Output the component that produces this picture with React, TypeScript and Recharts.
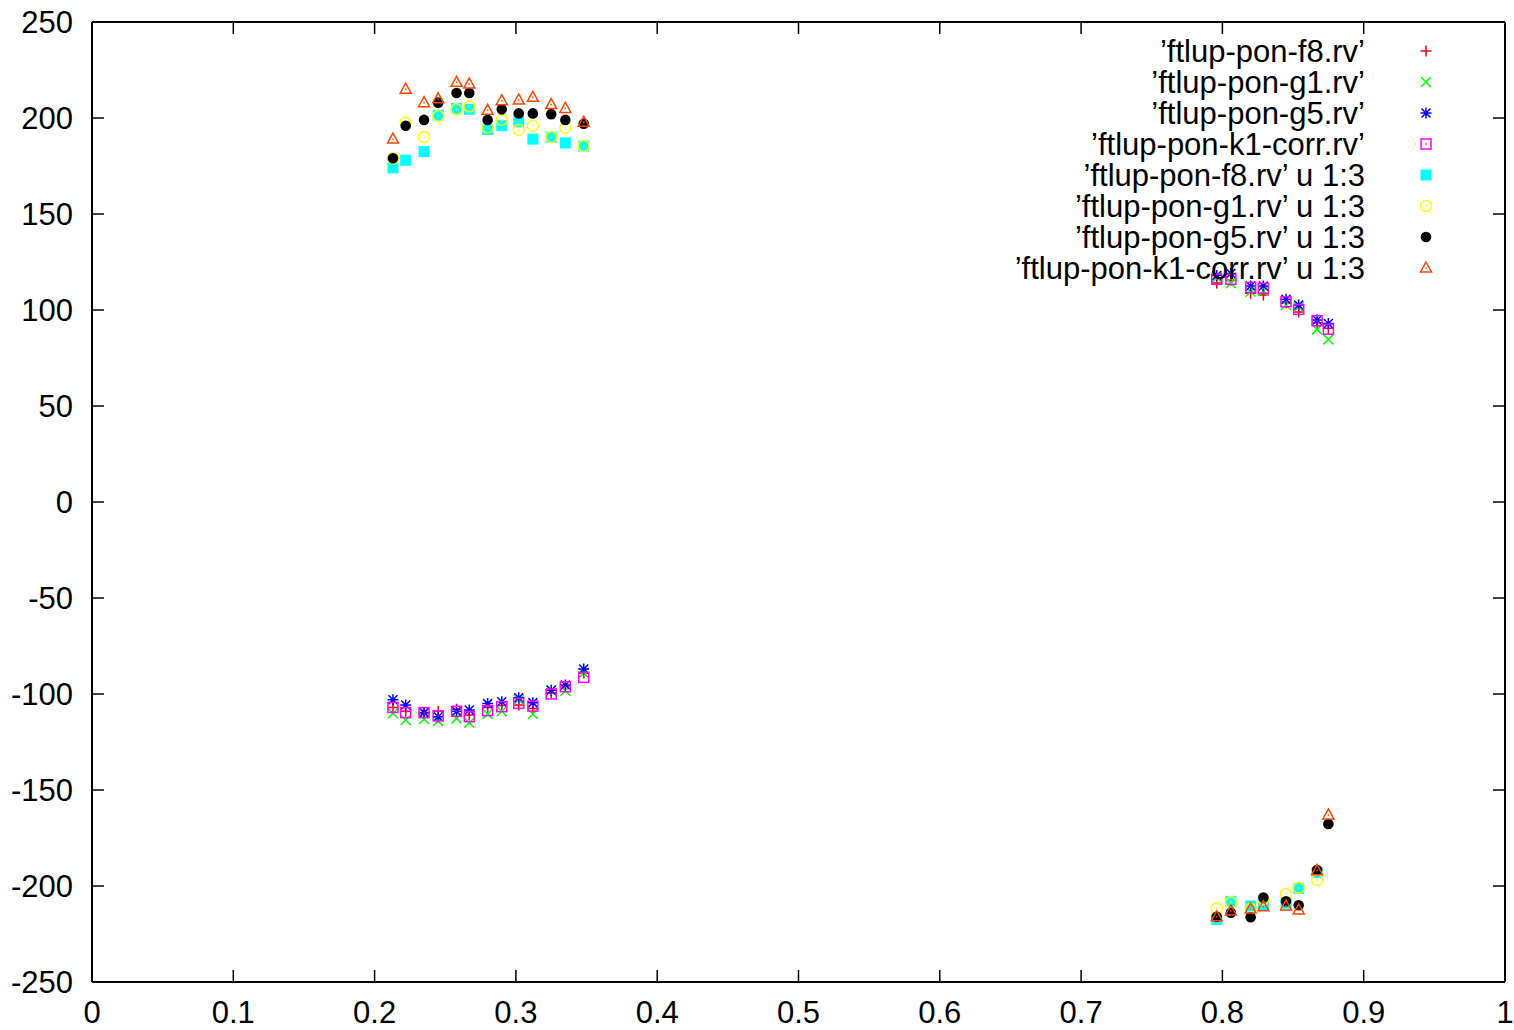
import React from 'react'
import { ScatterChart, Scatter, XAxis, YAxis } from 'recharts'

// x positions of the samples (left group, then right group)
const xs = [0.213, 0.222, 0.235, 0.245, 0.258, 0.267, 0.28, 0.29, 0.302, 0.312, 0.325, 0.335, 0.348,
  0.796, 0.806, 0.82, 0.829, 0.845, 0.854, 0.867, 0.875]

const f8 = [-107, -109, -110, -109, -108, -111, -107, -106, -105.7, -107.5, -99.5, -96, -89,
  114, 115.5, 108.7, 107.8, 103.6, 99, 93.4, 90.5]
const g1 = [-110, -113.5, -113, -114, -112.7, -115, -110.4, -109, -103, -110.4, -98, -98.3, -89,
  117, 114, 109.5, 110, 102.6, 101.7, 89.9, 84.7]
const g5 = [-103, -105.7, -109.7, -111.8, -109, -108.3, -105, -104, -102, -104.5, -98, -95.3, -87,
  118, 119, 112.5, 112.5, 105.6, 102.6, 94.8, 93]
const k1 = [-107, -109.7, -109.7, -111.4, -109, -111.8, -108.7, -106.6, -104.9, -106.3, -100, -96.2, -91.3,
  116, 116, 111.8, 111.3, 104.3, 100.3, 94.4, 90]
const f8c3 = [174, 178, 182.5, 201.5, 205, 204.5, 194, 196, 198, 189, 190, 187, 185.4,
  -217.4, -208, -210.4, -210, -209, -201.2, -193, null]
const g1c3 = [179, 197.5, 190, 201, 204.5, 206, 195, 199, 193.7, 196, 190, 195, 185.4,
  -211.6, -208.5, -212, -207, -204.3, -201, -196.9, null]
const g5c3 = [179, 196, 199, 208, 213, 213, 199, 204.5, 202.4, 202.4, 202, 199, 197,
  -216, -213.9, -216.3, -206, -208, -210, -191.7, -167.7]
const k1c3 = [189, 215, 208, 210, 218.6, 217.7, 204, 209, 209.4, 210.8, 207, 205, 197.8,
  -216, -213, -212, -210.8, -210.4, -212.5, -192, -163]

const xTicks = [0, 0.1, 0.2, 0.3, 0.4, 0.5, 0.6, 0.7, 0.8, 0.9, 1]
const yTicks = [-250, -200, -150, -100, -50, 0, 50, 100, 150, 200, 250]

const FONT = '"Liberation Sans", Arial, Helvetica, sans-serif'
const FS = 31

type Mk = { cx: number; cy: number; color: string }

const Plus = ({ cx, cy, color }: Mk) => (
  <path d={`M${cx - 5.5},${cy}H${cx + 5.5}M${cx},${cy - 5.5}V${cy + 5.5}`} stroke={color} strokeWidth={1.5} fill="none" />
)
const Cross = ({ cx, cy, color }: Mk) => (
  <path d={`M${cx - 5},${cy - 5}L${cx + 5},${cy + 5}M${cx - 5},${cy + 5}L${cx + 5},${cy - 5}`} stroke={color} strokeWidth={1.5} fill="none" />
)
const Star = ({ cx, cy, color }: Mk) => (
  <path
    d={`M${cx - 5.5},${cy}H${cx + 5.5}M${cx},${cy - 5.5}V${cy + 5.5}M${cx - 4.5},${cy - 4.5}L${cx + 4.5},${cy + 4.5}M${cx - 4.5},${cy + 4.5}L${cx + 4.5},${cy - 4.5}`}
    stroke={color} strokeWidth={1.5} fill="none" />
)
const Box = ({ cx, cy, color }: Mk) => (
  <g>
    <rect x={cx - 5} y={cy - 5} width={10} height={10} stroke={color} strokeWidth={1.5} fill="none" />
    <rect x={cx - 0.75} y={cy - 0.75} width={1.5} height={1.5} fill={color} />
  </g>
)
const FillBox = ({ cx, cy, color }: Mk) => (
  <rect x={cx - 5.5} y={cy - 5.5} width={11} height={11} fill={color} />
)
const Ring = ({ cx, cy, color }: Mk) => (
  <g>
    <circle cx={cx} cy={cy} r={5.5} stroke={color} strokeWidth={1.5} fill="none" />
    <rect x={cx - 0.75} y={cy - 0.75} width={1.5} height={1.5} fill={color} />
  </g>
)
const Dot = ({ cx, cy, color }: Mk) => <circle cx={cx} cy={cy} r={5.3} fill={color} />
const Tri = ({ cx, cy, color }: Mk) => (
  <g>
    <path d={`M${cx},${cy - 6}L${cx + 5.5},${cy + 4}L${cx - 5.5},${cy + 4}Z`} stroke={color} strokeWidth={1.5} fill="none" />
    <rect x={cx - 0.75} y={cy - 0.75} width={1.5} height={1.5} fill={color} />
  </g>
)

// the "u 1:3" series sit on the mirrored top/right axes (same domains) so that the frame gets drawn
const series = [
  { name: '’ftlup-pon-f8.rv’', values: f8, color: '#ff0000', Shape: Plus, ax: 'main' },
  { name: '’ftlup-pon-g1.rv’', values: g1, color: '#00ff00', Shape: Cross, ax: 'main' },
  { name: '’ftlup-pon-g5.rv’', values: g5, color: '#0000ff', Shape: Star, ax: 'main' },
  { name: '’ftlup-pon-k1-corr.rv’', values: k1, color: '#ff00ff', Shape: Box, ax: 'main' },
  { name: '’ftlup-pon-f8.rv’ u 1:3', values: f8c3, color: '#00ffff', Shape: FillBox, ax: 'mirror' },
  { name: '’ftlup-pon-g1.rv’ u 1:3', values: g1c3, color: '#ffff00', Shape: Ring, ax: 'mirror' },
  { name: '’ftlup-pon-g5.rv’ u 1:3', values: g5c3, color: '#000000', Shape: Dot, ax: 'mirror' },
  { name: '’ftlup-pon-k1-corr.rv’ u 1:3', values: k1c3, color: '#ff4500', Shape: Tri, ax: 'mirror' },
]

const toPoints = (vals: (number | null)[]) =>
  vals.map((v, i) => ({ x: xs[i], y: v })).filter((p) => p.y !== null)

const BottomTick = ({ x, y, payload }: any) => (
  <g>
    <line x1={x} y1={y} x2={x} y2={y - 12} stroke="#000" strokeWidth={1.5} />
    <text x={x} y={y + 41} textAnchor="middle" fontSize={FS} fontFamily={FONT} fill="#000">{payload.value}</text>
  </g>
)
const TopTick = ({ x, y }: any) => <line x1={x} y1={y} x2={x} y2={y + 12} stroke="#000" strokeWidth={1.5} />
const LeftTick = ({ x, y, payload }: any) => (
  <g>
    <line x1={x} y1={y} x2={x + 12} y2={y} stroke="#000" strokeWidth={1.5} />
    <text x={x - 19} y={y} dy="0.35em" textAnchor="end" fontSize={FS} fontFamily={FONT} fill="#000">{payload.value}</text>
  </g>
)
const RightTick = ({ x, y }: any) => <line x1={x} y1={y} x2={x - 12} y2={y} stroke="#000" strokeWidth={1.5} />

const frame = { stroke: '#000', strokeWidth: 2 }

export default function App() {
  return (
    <div style={{ position: 'absolute', left: 0, top: 0, width: 1514, height: 1030, background: '#fff' }}>
      <ScatterChart width={1514} height={1030} margin={{ top: 21, right: 8, left: 0, bottom: 0 }}>
        <XAxis xAxisId="main" dataKey="x" type="number" domain={[0, 1]} ticks={xTicks} interval={0} height={48}
          tickSize={0} tickMargin={0} tickLine={false} axisLine={frame} tick={<BottomTick />} />
        <XAxis xAxisId="mirror" dataKey="x" orientation="top" type="number" domain={[0, 1]} ticks={xTicks} interval={0} height={1}
          tickSize={0} tickMargin={0} tickLine={false} axisLine={frame} tick={<TopTick />} />
        <YAxis yAxisId="main" dataKey="y" type="number" domain={[-250, 250]} ticks={yTicks} interval={0} width={92}
          tickSize={0} tickMargin={0} tickLine={false} axisLine={frame} tick={<LeftTick />} />
        <YAxis yAxisId="mirror" dataKey="y" orientation="right" type="number" domain={[-250, 250]} ticks={yTicks} interval={0} width={1}
          tickSize={0} tickMargin={0} tickLine={false} axisLine={frame} tick={<RightTick />} />
        {series.map((s) => (
          <Scatter key={s.name} name={s.name} data={toPoints(s.values)} isAnimationActive={false}
            xAxisId={s.ax} yAxisId={s.ax}
            shape={(p: any) => <s.Shape cx={p.cx} cy={p.cy} color={s.color} />} />
        ))}
      </ScatterChart>
      <svg width={1514} height={1030} style={{ position: 'absolute', left: 0, top: 0, pointerEvents: 'none' }}>
        {series.map((s, i) => (
          <g key={s.name}>
            <text x={1365} y={51 + 31 * i + 11} textAnchor="end" fontSize={FS} fontFamily={FONT} fill="#000">{s.name}</text>
            <s.Shape cx={1426} cy={51 + 31 * i} color={s.color} />
          </g>
        ))}
      </svg>
    </div>
  )
}
